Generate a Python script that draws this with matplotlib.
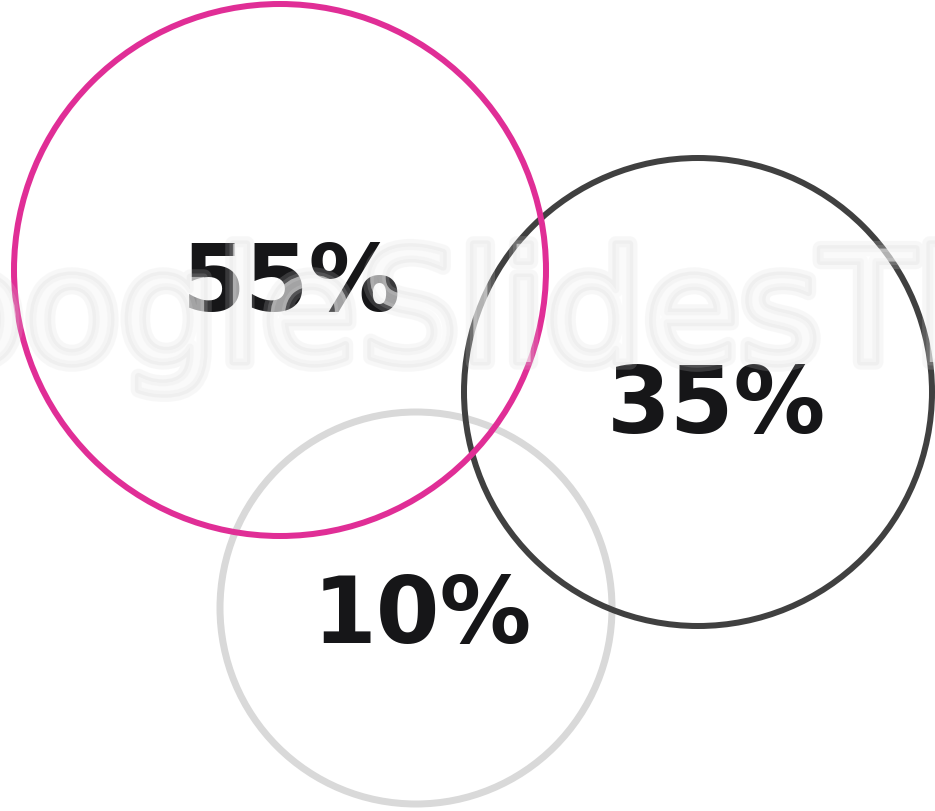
import matplotlib
matplotlib.use("Agg")
import matplotlib.pyplot as plt
import matplotlib.patches as mpatches
import matplotlib.patheffects as pe

# data
labels = ["55%", "35%", "10%"]
shares = [55, 35, 10]
watermark = ["Google", "SlidesThemes"]

# layout (pixels, y from top)
centers = [(280, 271), (698, 393), (416, 609)]
radii = [266, 234, 196]
text_pos = [(291, 311), (716, 433), (422, 643)]
colors = ["#E02E96", "#404040", "#D9D9D9"]
widths = [6, 6, 7]
order = [3, 2, 1]

W, H = 935, 812
fig = plt.figure(figsize=(W / 100, H / 100), dpi=100)
ax = fig.add_axes([0, 0, 1, 1])
ax.set_xlim(0, W)
ax.set_ylim(H, 0)
ax.set_aspect("equal")
ax.axis("off")

for i, share in enumerate(shares):
    circ = mpatches.Circle(centers[i], radii[i], fill=False,
                           edgecolor=colors[i], linewidth=widths[i] * 0.72,
                           zorder=order[i])
    ax.add_patch(circ)
    ax.text(text_pos[i][0], text_pos[i][1], labels[i], ha="center",
            va="baseline", fontsize=66, fontweight="bold",
            family="DejaVu Sans", color="#161618", zorder=5)

# faint watermark laid over everything (white with soft grey edge)
shadow = [pe.Stroke(linewidth=11, foreground="#d8d8d8", alpha=0.18),
          pe.Stroke(linewidth=5, foreground="#d0d0d0", alpha=0.18),
          pe.Normal()]
ax.text(357, 363, watermark[0], ha="right", va="baseline", fontsize=112,
        family="DejaVu Sans", color="white", alpha=0.32, zorder=10,
        path_effects=shadow)
ax.text(360, 363, watermark[1], ha="left", va="baseline", fontsize=112,
        family="DejaVu Sans", color="white", alpha=0.32, zorder=10,
        path_effects=shadow)

fig.savefig("out.png", dpi=100, facecolor="white")
